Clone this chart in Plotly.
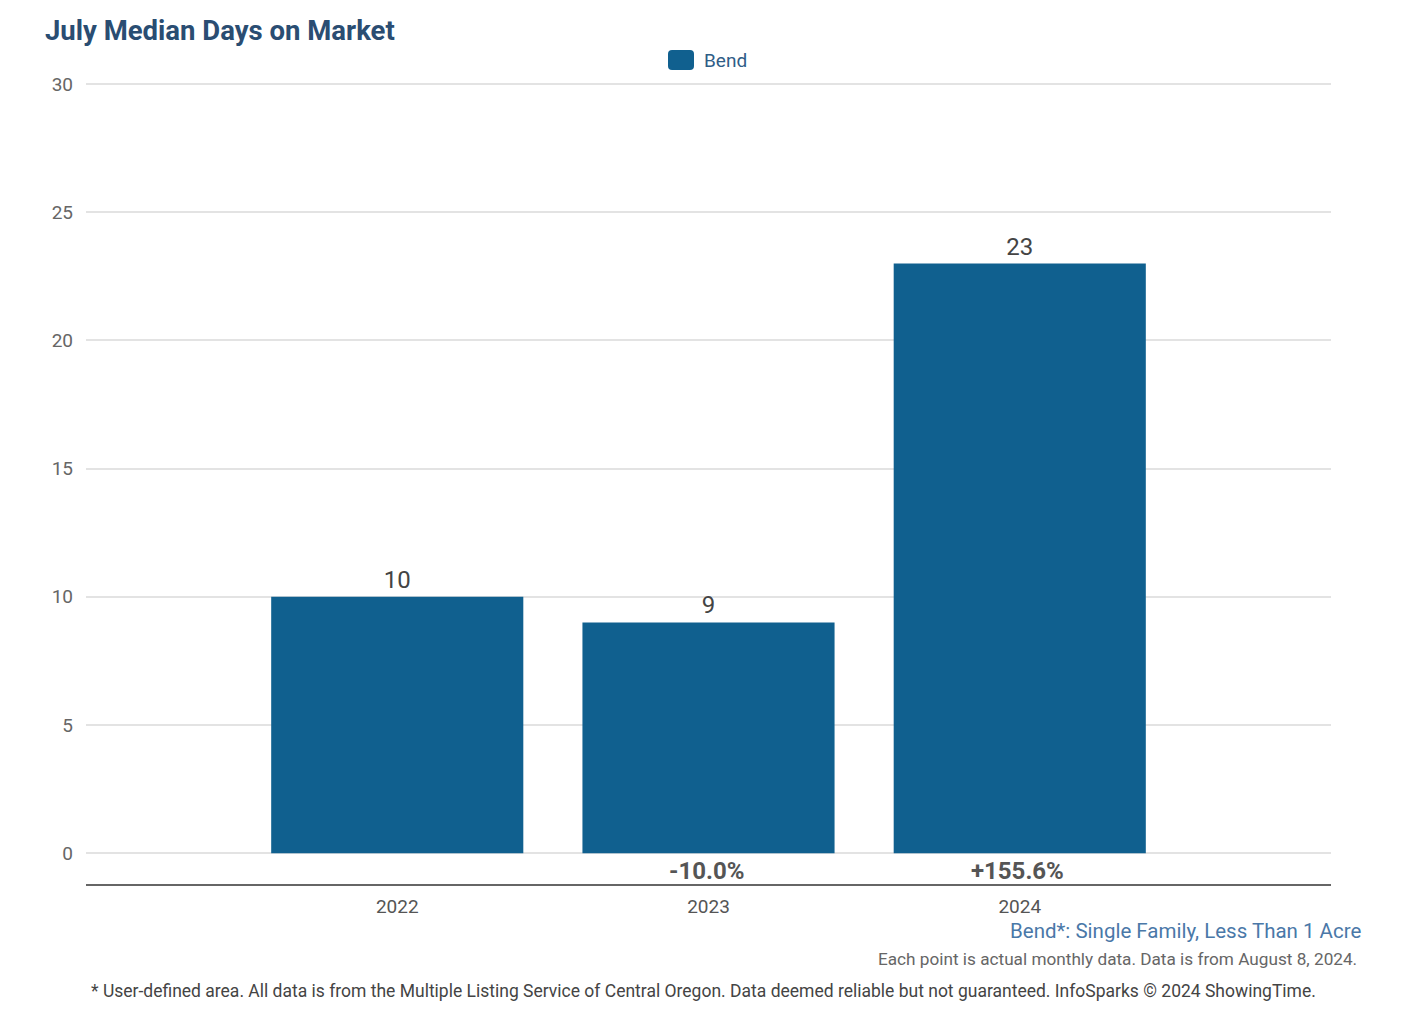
import plotly.graph_objects as go

# data
years = ['2022', '2023', '2024']
median_days = [10, 9, 23]
pct_change = ['', '-10.0%', '+155.6%']

bar_color = '#10608f'
font_family = 'Roboto, Arial, sans-serif'

fig = go.Figure()
fig.add_trace(go.Bar(
    x=years,
    y=median_days,
    name='Bend',
    marker=dict(color=bar_color, line=dict(width=0)),
    width=0.81,
    text=[str(v) for v in median_days],
    textposition='outside',
    textfont=dict(size=24, color='#444444', family=font_family),
    cliponaxis=False,
    showlegend=False,
))

# year-over-year change under the bars (category index positions)
for i, pct in enumerate(pct_change):
    if pct:
        fig.add_annotation(x=i, y=-0.7, xref='x', yref='y', text='<b>' + pct + '</b>',
                           showarrow=False, xshift=-2,
                           font=dict(size=24, color='#555555', family=font_family))

# legend drawn by hand: rounded swatch + label above the plot centre
def rounded_rect(x0, y0, x1, y1, r):
    return (f'M {x0 + r} {y0} L {x1 - r} {y0} Q {x1} {y0} {x1} {y0 + r} '
            f'L {x1} {y1 - r} Q {x1} {y1} {x1 - r} {y1} L {x0 + r} {y1} '
            f'Q {x0} {y1} {x0} {y1 - r} L {x0} {y0 + r} Q {x0} {y0} {x0 + r} {y0} Z')

fig.add_shape(type='path', xref='paper', yref='paper', xsizemode='pixel', ysizemode='pixel',
              xanchor=0.5, yanchor=1, path=rounded_rect(-40.5, 12, -14.5, 32, 4),
              fillcolor=bar_color, line=dict(width=0))
fig.add_annotation(x=0.5, y=1, xref='paper', yref='paper', xanchor='left', yanchor='middle',
                   xshift=-7, yshift=22, text='Bend', showarrow=False,
                   font=dict(size=19, color='#2f5d87', family=font_family))

fig.update_layout(
    width=1410,
    height=1021,
    margin=dict(l=78, r=87, t=74, b=145),
    plot_bgcolor='white',
    paper_bgcolor='white',
    font=dict(family=font_family, color='#666666'),
    title=dict(text='<b>July Median Days on Market</b>', x=0.0262, xanchor='left',
               y=0.978, yanchor='middle',
               font=dict(size=27.5, color='#2a4d72', family=font_family)),
    showlegend=False,
    bargap=0.19,
)

fig.update_xaxes(type='category', range=[-1, 3], showgrid=False, showline=True,
                 linecolor='#666666', linewidth=2,
                 tickfont=dict(size=19, color='#555555'), ticklabelstandoff=4)
fig.update_yaxes(range=[-1.2, 30.08], tickvals=[0, 5, 10, 15, 20, 25, 30], gridcolor='#e3e3e3', gridwidth=2,
                 zeroline=False, showline=False,
                 tickfont=dict(size=19, color='#666666'), ticklabelstandoff=12)

fig.add_annotation(x=1.0257, y=-0.059, xref='paper', yref='paper', xanchor='right', yanchor='middle',
                   text='Bend*: Single Family, Less Than 1 Acre', showarrow=False,
                   font=dict(size=20.5, color='#4a78a8', family=font_family))
fig.add_annotation(x=1.0225, y=-0.0935, xref='paper', yref='paper', xanchor='right', yanchor='middle',
                   text='Each point is actual monthly data. Data is from August 8, 2024.', showarrow=False,
                   font=dict(size=17.2, color='#666666', family=font_family))
fig.add_annotation(x=0.496, y=-0.133, xref='paper', yref='paper', xanchor='center', yanchor='middle',
                   text='* User-defined area. All data is from the Multiple Listing Service of Central Oregon. '
                        'Data deemed reliable but not guaranteed. InfoSparks © 2024 ShowingTime.',
                   showarrow=False, font=dict(size=17.5, color='#444444', family=font_family))

fig.write_html("out.html")
